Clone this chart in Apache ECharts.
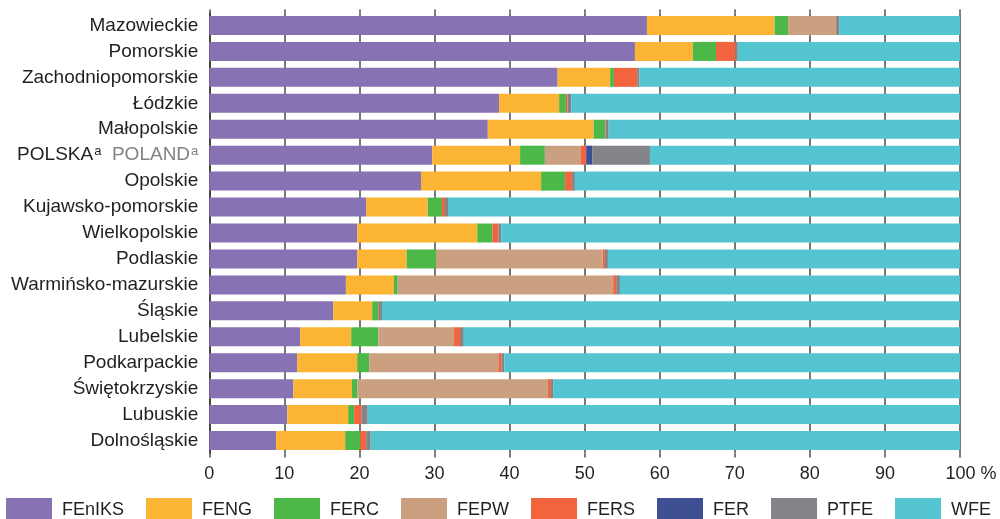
<!DOCTYPE html>
<html>
<head>
<meta charset="utf-8">
<script src="https://cdn.jsdelivr.net/npm/echarts@6/dist/echarts.min.js"></script>
<style>
html,body{margin:0;padding:0;background:#fff;}
#c{width:1000px;height:519px;}
</style>
</head>
<body>
<div id="c"></div>
<script>
var categories = ["Mazowieckie","Pomorskie","Zachodniopomorskie","Łódzkie","Małopolskie","POLSKA","Opolskie","Kujawsko-pomorskie","Wielkopolskie","Podlaskie","Warmińsko-mazurskie","Śląskie","Lubelskie","Podkarpackie","Świętokrzyskie","Lubuskie","Dolnośląskie"];
var seriesNames = ["FEnIKS","FENG","FERC","FEPW","FERS","FER","PTFE","WFE"];
var FEnIKS = [58.3,56.7,46.4,38.6,37.1,29.7,28.2,20.9,19.7,19.7,18.2,16.5,12.1,11.7,11.2,10.4,8.9];
var FENG   = [17.0,7.7,7.0,8.0,14.1,11.7,16.0,8.2,16.0,6.6,6.4,5.2,6.8,8.0,7.8,8.1,9.2];
var FERC   = [1.8,3.1,0.5,0.9,1.5,3.3,3.2,1.9,2.0,3.9,0.5,0.8,3.6,1.6,0.7,0.8,2.0];
var FEPW   = [6.4,0,0,0,0,4.8,0,0,0,22.2,28.7,0,10.1,17.2,25.4,0,0];
var FERS   = [0,2.6,3.1,0.2,0.1,0.7,0.9,0.4,0.8,0.3,0.4,0.1,0.8,0.4,0.4,1.0,0.8];
var FER    = [0,0,0,0,0,0.8,0,0,0,0,0,0,0,0,0,0,0];
var PTFE   = [0.4,0.3,0.3,0.5,0.4,7.7,0.4,0.4,0.4,0.4,0.5,0.4,0.5,0.4,0.3,0.8,0.6];
var WFE    = [16.1,29.6,42.7,51.8,46.8,41.3,51.3,68.2,61.1,46.9,45.3,77.0,66.1,60.7,54.2,78.9,78.5];
var xTicks = [0,10,20,30,40,50,60,70,80,90,100];

var values = [FEnIKS,FENG,FERC,FEPW,FERS,FER,PTFE,WFE];
var colors = ["#8773b4","#fbb433","#4cb848","#cba080","#f2643d","#3f4f94","#838487","#54c5d0"];
var FONT = "Liberation Sans, Arial, sans-serif";

var chart = echarts.init(document.getElementById('c'), null, {renderer:'canvas'});
var series = seriesNames.map(function(n,i){
  return {
    name:n, type:'bar', stack:'total', barWidth:19,
    itemStyle:{color:colors[i]},
    emphasis:{disabled:true},
    data: values[i]
  };
});
var option = {
  animation:false,
  color: colors,
  grid:{left:209.3, right:40, top:12.5, bottom:65.5, containLabel:false},
  legend:{
    data: seriesNames, left:6, top:498, padding:0, itemWidth:46, itemHeight:24, itemGap:22,
    icon:'rect', selectedMode:false,
    textStyle:{fontFamily:FONT, fontSize:18, color:'#231f20', padding:[0,0,0,5]}
  },
  xAxis:[{
    type:'value', min:0, max:100, interval:10, position:'bottom',
    axisLine:{show:false},
    axisTick:{show:true, length:4, lineStyle:{color:'#777', width:2}},
    splitLine:{show:true, lineStyle:{color:'#777', width:2}},
    axisLabel:{
      margin:12, fontFamily:FONT, fontSize:18, color:'#231f20',
      formatter:function(v){ return v===100 ? '{pad|}100 %' : String(v); },
      rich:{pad:{width:22}}
    }
  },{
    type:'value', min:0, max:100, interval:10, position:'top',
    axisLine:{show:false},
    axisTick:{show:true, length:3, lineStyle:{color:'#777', width:2}},
    splitLine:{show:false}, axisLabel:{show:false}
  }],
  yAxis:{
    type:'category', data:categories, inverse:true,
    axisLine:{show:true, lineStyle:{color:'#333', width:1.5}},
    axisTick:{show:false},
    axisLabel:{
      margin:11, fontFamily:FONT, fontSize:19, color:'#231f20',
      formatter:function(v){
        if(v==='POLSKA') return '{b|POLSKA}{s|a}{g|  POLAND}{gs|a}';
        return v;
      },
      rich:{
        b:{fontFamily:FONT, fontSize:19, color:'#231f20'},
        s:{fontFamily:FONT, fontSize:13, color:'#231f20', padding:[0,0,8,1]},
        g:{fontFamily:FONT, fontSize:19, color:'#808285'},
        gs:{fontFamily:FONT, fontSize:13, color:'#808285', padding:[0,0,8,1]}
      }
    }
  },
  series: series
};
chart.setOption(option);
</script>
</body>
</html>
